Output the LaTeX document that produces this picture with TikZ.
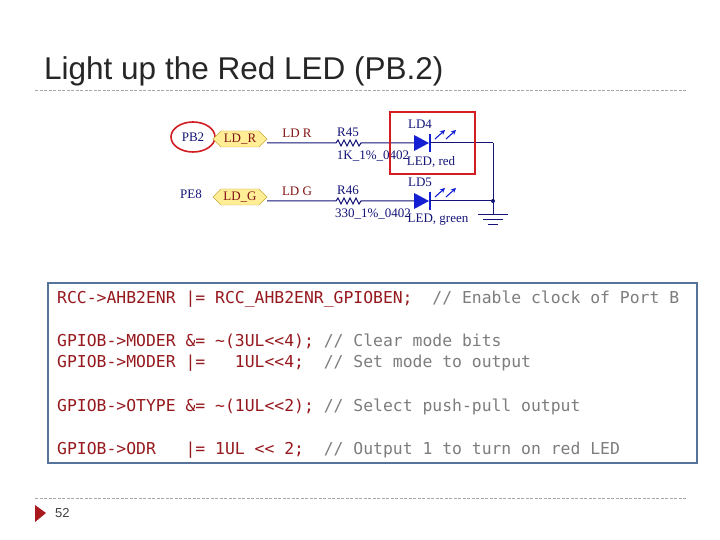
\documentclass[tikz,border=0pt]{standalone}
\usepackage{fontspec}
\setmainfont{Liberation Sans}
\newfontfamily\codefont{DejaVu Sans Mono}
\newfontfamily\schfont{Liberation Serif}
\usetikzlibrary{shapes.geometric,arrows.meta}
\definecolor{wire}{RGB}{20,20,120}
\definecolor{ledblue}{RGB}{20,30,210}
\definecolor{netred}{RGB}{130,20,20}
\definecolor{tagfill}{RGB}{255,238,150}
\definecolor{tagline}{RGB}{200,170,60}
\definecolor{codered}{RGB}{150,25,30}
\definecolor{codegrey}{RGB}{125,125,125}
\definecolor{boxblue}{RGB}{85,115,155}
\definecolor{hl}{RGB}{210,30,35}
\begin{document}
\begin{tikzpicture}[x=1pt,y=-1pt,
  sch/.style={font=\schfont\fontsize{13}{13}\selectfont, text=wire, inner sep=0pt},
  net/.style={font=\schfont\fontsize{13}{13}\selectfont, text=netred, inner sep=0pt},
  code/.style={font=\codefont\fontsize{16.4}{16}\selectfont, inner sep=0pt, anchor=base west},
  w/.style={wire, line width=1pt}]
\useasboundingbox (0,0) rectangle (720,540);
\fill[white] (0,0) rectangle (720,540);
% title and rules
\node (title) [anchor=base west, inner sep=0pt, font=\fontsize{31.5}{31.5}\selectfont, text=black!85] at (44,80) {Light up the Red LED (PB.2)};
\draw[gray!70, dash pattern=on 3pt off 1.5pt, line width=0.6pt] (35,90) -- (686,90);
\draw[gray!70, dash pattern=on 3pt off 1.5pt, line width=0.6pt] (35,498) -- (686,498);
\fill[hl!80!black] (35,505) -- (46,513) -- (35,522) -- cycle;
\node (page) [anchor=west, inner sep=0pt, font=\fontsize{13}{13}\selectfont, text=black!75] at (55,513) {52};
% schematic
\node (pb2) [sch] at (193,137) {PB2};
\draw[hl, line width=1.6pt] (pb2) ellipse (22pt and 15pt);
\node (pe8) [sch] at (191,194) {PE8};
\foreach \n/\y/\t in {r/143/LD\_R, g/201/LD\_G}{
  \fill[tagfill, draw=tagline] (213,\y-4) -- (221,\y-12) -- (259,\y-12) -- (267,\y-4) -- (259,\y+4) -- (221,\y+4) -- cycle;
  \node (tag\n) [net] at (240,\y-4) {\t};
}
\foreach \n/\y/\lab/\rn/\rv/\ld/\lv/\lvx in {r/143/LD R/R45/1K\_1\%\_0402/LD4/{LED, red}/431, g/201/LD G/R46/330\_1\%\_0402/LD5/{LED, green}/438}{
  \node (net\n) [net] at (297,\y-10) {\lab};
  \node (rn\n) [sch] at (348,\y-11) {\rn};
  \node (rv\n) [sch] at (373,\y+13) {\rv};
  \node (ld\n) [sch] at (420,\y-19) {\ld};
  \node (lv\n) [sch] at (\lvx,\y+19) {\lv};
  \draw[w] (267,\y) -- (336,\y) -- (338,\y-3) -- (341,\y+3) -- (344,\y-3) -- (347,\y+3) -- (350,\y-3) -- (353,\y+3) -- (356,\y-3) -- (359,\y+3) -- (361,\y) -- (415,\y);
  \fill[ledblue] (414,\y-8) -- (429,\y) -- (414,\y+8) -- cycle;
  \draw[ledblue, line width=1.8pt] (430,\y-9) -- (430,\y+9);
  \draw[w] (430,\y) -- (493,\y);
  \foreach \dx in {0,11}{
    \draw[ledblue, line width=1.1pt, -{Stealth[length=5pt,width=5pt]}] (435+\dx,\y-4) -- (445+\dx,\y-13);
  }
}
\draw[w] (493,143) -- (493,215);
\fill[wire] (493,201) circle (2pt);
\draw[w] (478,215) -- (508,215) (483,220) -- (503,220) (488,225) -- (498,225);
\draw[hl, line width=2pt] (390,112) rectangle (475,174);
% code box
\draw[boxblue, line width=2.5pt] (48,283) rectangle (697,463);
\node (c1) [code] at (57,303) {\textcolor{codered}{RCC->AHB2ENR |= RCC\_AHB2ENR\_GPIOBEN;}\textcolor{codegrey}{\ \ // Enable clock of Port B}};
\node (c2) [code] at (57,346) {\textcolor{codered}{GPIOB->MODER \&= \textasciitilde(3UL<<4);}\ \textcolor{codegrey}{// Clear mode bits}};
\node (c3) [code] at (57,367) {\textcolor{codered}{GPIOB->MODER |=\ \ \ 1UL<<4;}\ \ \textcolor{codegrey}{// Set mode to output}};
\node (c4) [code] at (57,411) {\textcolor{codered}{GPIOB->OTYPE \&= \textasciitilde(1UL<<2);}\ \textcolor{codegrey}{// Select push-pull output}};
\node (c5) [code] at (57,454) {\textcolor{codered}{GPIOB->ODR\ \ \ |= 1UL << 2;}\ \ \textcolor{codegrey}{// Output 1 to turn on red LED}};
\end{tikzpicture}
\end{document}
